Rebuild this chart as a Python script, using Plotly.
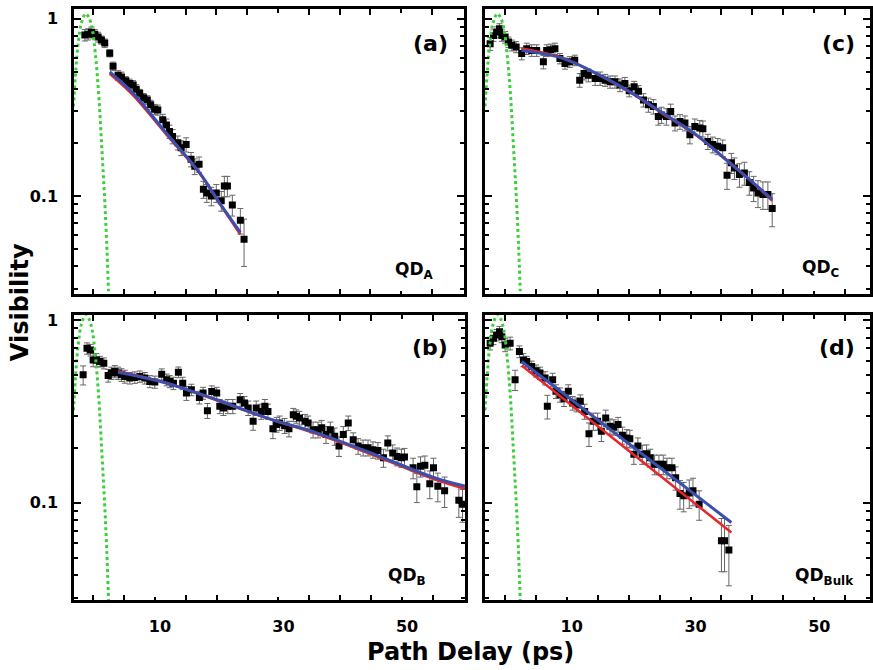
import plotly.graph_objects as go

# ---------------- data ----------------
# Panel (a) QD_A
A_X = [-1.34, -0.8, -0.27, 0.27, 0.81, 1.35, 1.89, 2.7, 3.24, 4.05,
       4.6, 5.3, 5.94, 6.5, 7.0, 7.56, 8.2, 8.8, 9.34, 9.98,
       10.5, 11.3, 11.9, 12.4, 12.9, 13.75, 14.3, 15.1, 15.9, 16.5,
       17.2, 17.9, 18.45, 19.2, 20.0, 20.8, 21.3, 21.8, 22.6, 23.9, 24.5]
A_Y = [0.81, 0.82, 0.84, 0.82, 0.79, 0.76, 0.73, 0.64, 0.54, 0.48,
       0.47, 0.447, 0.432, 0.423, 0.40, 0.38, 0.359, 0.348, 0.327, 0.309,
       0.306, 0.269, 0.252, 0.231, 0.217, 0.20, 0.187, 0.195, 0.161, 0.147,
       0.151, 0.109, 0.104, 0.10, 0.104, 0.094, 0.114, 0.114, 0.089, 0.073, 0.057]
A_ERR = [0.06, 0.06, 0.06, 0.05, 0.05, 0.04, 0.04, 0.03, 0.03, 0.03,
         0.03, 0.025, 0.025, 0.025, 0.025, 0.02, 0.02, 0.02, 0.02, 0.02,
         0.02, 0.02, 0.02, 0.02, 0.02, 0.018, 0.018, 0.018, 0.015, 0.015,
         0.015, 0.012, 0.012, 0.012, 0.012, 0.012, 0.015, 0.015, 0.012, 0.012, 0.017]
A_FIT_X = [2.7, 6.5, 11.9, 17.3, 20.5, 23.9]
A_BLUE_Y = [0.502, 0.38, 0.226, 0.135, 0.0918, 0.0623]
A_RED_Y = [0.49, 0.37, 0.222, 0.134, 0.091, 0.0605]

# Panel (b) QD_B
B_X = [-1.62, -1.0, -0.42, 0.0, 0.54, 1.08, 1.73, 2.43, 2.97, 3.51,
       4.05, 4.59, 5.13, 5.94, 6.75, 7.56, 8.36, 9.17, 9.98, 11.1,
       11.9, 12.4, 13.0, 13.8, 14.5, 15.1, 15.9, 17.2, 17.8, 18.5,
       19.2, 20.0, 20.5, 21.1, 21.8, 22.6, 23.8, 24.5, 25.1, 25.9,
       26.4, 27.2, 27.8, 28.3, 29.1, 29.7, 30.2, 31.0, 31.7, 32.4,
       32.9, 33.4, 34.3, 34.8, 35.6, 36.4, 37.0, 37.7, 38.4, 39.1,
       39.8, 40.5, 41.3, 42.1, 42.9, 43.7, 44.5, 45.3, 46.1, 47.0,
       47.7, 48.5, 49.2, 49.9, 50.4, 51.8, 52.4, 53.0, 53.7, 54.5,
       55.1, 55.8, 56.9, 59.2, 59.8]
B_Y = [0.501, 0.70, 0.686, 0.605, 0.605, 0.593, 0.58, 0.497, 0.512, 0.523,
       0.512, 0.501, 0.491, 0.481, 0.485, 0.491, 0.481, 0.461, 0.458, 0.505,
       0.471, 0.461, 0.451, 0.518, 0.451, 0.398, 0.415, 0.377, 0.398, 0.319,
       0.406, 0.398, 0.337, 0.33, 0.337, 0.337, 0.366, 0.351, 0.33, 0.279,
       0.33, 0.316, 0.337, 0.316, 0.254, 0.268, 0.273, 0.264, 0.254, 0.303,
       0.297, 0.291, 0.279, 0.273, 0.251, 0.251, 0.257, 0.236, 0.251, 0.231,
       0.204, 0.236, 0.273, 0.221, 0.204, 0.2, 0.2, 0.195, 0.193, 0.176,
       0.212, 0.187, 0.179, 0.176, 0.178, 0.155, 0.122, 0.158, 0.16, 0.127,
       0.155, 0.123, 0.116, 0.103, 0.098]
B_ERR = [0.06, 0.05, 0.05, 0.05, 0.05, 0.04, 0.04, 0.04, 0.04, 0.04,
         0.04, 0.04, 0.04, 0.035, 0.035, 0.035, 0.035, 0.035, 0.035, 0.035,
         0.035, 0.035, 0.035, 0.035, 0.035, 0.035, 0.03, 0.03, 0.03, 0.03,
         0.03, 0.03, 0.03, 0.03, 0.03, 0.03, 0.03, 0.03, 0.03, 0.03,
         0.03, 0.03, 0.03, 0.03, 0.03, 0.025, 0.025, 0.025, 0.025, 0.025,
         0.025, 0.025, 0.025, 0.025, 0.025, 0.025, 0.025, 0.025, 0.025, 0.025,
         0.025, 0.025, 0.025, 0.02, 0.02, 0.02, 0.02, 0.02, 0.02, 0.02,
         0.02, 0.02, 0.02, 0.02, 0.02, 0.02, 0.022, 0.02, 0.02, 0.022,
         0.02, 0.022, 0.022, 0.02, 0.02]
B_FIT_X = [4.05, 11.9, 20.0, 28.1, 36.2, 44.3, 55.0, 60.2]
B_BLUE_Y = [0.518, 0.451, 0.366, 0.291, 0.241, 0.191, 0.138, 0.123]
B_RED_Y = [0.525, 0.452, 0.363, 0.29, 0.238, 0.188, 0.135, 0.119]

# Panel (c) QD_C
C_X = [-2.37, -1.83, -1.3, -0.86, -0.48, 0.05, 0.59, 1.13, 1.83, 2.73,
       3.54, 4.34, 5.15, 6.23, 6.76, 7.4, 8.1, 8.9, 9.72, 10.5,
       11.3, 12.1, 12.8, 13.5, 14.6, 15.4, 16.2, 17.0, 17.8, 18.6,
       19.4, 20.1, 20.9, 21.6, 22.4, 23.2, 24.0, 24.8, 25.3, 26.1,
       26.8, 27.5, 28.3, 29.1, 29.9, 30.7, 31.5, 32.0, 32.8, 33.6,
       34.4, 35.2, 35.9, 36.6, 37.1, 37.9, 38.7, 39.5, 40.2, 40.9,
       41.7, 42.5, 43.2]
C_Y = [0.724, 0.807, 0.842, 0.879, 0.807, 0.789, 0.74, 0.709, 0.694, 0.637,
       0.679, 0.664, 0.664, 0.572, 0.664, 0.67, 0.679, 0.597, 0.56, 0.572,
       0.584, 0.451, 0.492, 0.481, 0.461, 0.461, 0.451, 0.441, 0.441, 0.423,
       0.432, 0.393, 0.414, 0.39, 0.348, 0.327, 0.32, 0.281, 0.287, 0.281,
       0.30, 0.258, 0.263, 0.258, 0.222, 0.247, 0.242, 0.24, 0.203, 0.195,
       0.191, 0.187, 0.131, 0.154, 0.144, 0.132, 0.135, 0.119, 0.111, 0.104,
       0.102, 0.102, 0.085]
C_ERR = [0.06, 0.06, 0.06, 0.06, 0.06, 0.06, 0.05, 0.05, 0.05, 0.05,
         0.05, 0.05, 0.05, 0.05, 0.05, 0.05, 0.05, 0.04, 0.04, 0.04,
         0.04, 0.04, 0.04, 0.04, 0.04, 0.04, 0.035, 0.035, 0.035, 0.035,
         0.035, 0.03, 0.03, 0.03, 0.03, 0.03, 0.03, 0.03, 0.03, 0.03,
         0.03, 0.025, 0.025, 0.025, 0.025, 0.025, 0.025, 0.025, 0.02, 0.02,
         0.02, 0.02, 0.022, 0.02, 0.02, 0.02, 0.02, 0.018, 0.018, 0.018,
         0.018, 0.018, 0.018]
C_FIT_X = [2.73, 9.45, 14.8, 20.2, 25.6, 30.9, 36.3, 39.5, 43.2]
C_BLUE_Y = [0.664, 0.597, 0.492, 0.388, 0.293, 0.222, 0.154, 0.124, 0.0958]
C_RED_Y = [0.68, 0.60, 0.49, 0.385, 0.29, 0.22, 0.155, 0.124, 0.094]

# Panel (d) QD_Bulk
D_X = [-2.37, -1.83, -1.3, -0.86, -0.48, 0.05, 0.86, 1.66, 2.36, 3.0,
       3.54, 4.34, 5.05, 5.69, 6.5, 6.87, 7.73, 8.27, 8.92, 9.56,
       10.26, 10.96, 11.6, 12.2, 12.9, 13.6, 14.3, 15.0, 15.6, 16.3,
       17.0, 17.6, 18.3, 19.0, 19.7, 20.2, 20.85, 21.5, 22.2, 22.9,
       23.5, 24.2, 24.9, 25.6, 26.2, 27.0, 27.6, 28.3, 28.9, 29.8,
       30.4, 31.4, 35.0, 35.5, 36.2]
D_Y = [0.746, 0.794, 0.828, 0.863, 0.811, 0.731, 0.746, 0.471, 0.672, 0.605,
       0.593, 0.556, 0.527, 0.512, 0.481, 0.337, 0.471, 0.407, 0.39, 0.371,
       0.407, 0.351, 0.344, 0.359, 0.316, 0.238, 0.279, 0.279, 0.246, 0.291,
       0.262, 0.259, 0.268, 0.234, 0.226, 0.224, 0.184, 0.204, 0.184, 0.185,
       0.176, 0.162, 0.162, 0.162, 0.155, 0.155, 0.137, 0.112, 0.109, 0.113,
       0.116, 0.098, 0.0618, 0.0618, 0.055]
D_ERR = [0.06, 0.06, 0.06, 0.06, 0.06, 0.06, 0.06, 0.06, 0.05, 0.05,
         0.04, 0.04, 0.04, 0.04, 0.04, 0.05, 0.04, 0.035, 0.035, 0.035,
         0.035, 0.03, 0.03, 0.03, 0.03, 0.035, 0.03, 0.03, 0.03, 0.03,
         0.025, 0.025, 0.025, 0.025, 0.025, 0.025, 0.022, 0.022, 0.022, 0.022,
         0.02, 0.02, 0.02, 0.02, 0.02, 0.02, 0.02, 0.02, 0.02, 0.02,
         0.02, 0.018, 0.02, 0.02, 0.02]
D_FIT_X = [2.73, 36.6]
D_BLUE_Y = [0.593, 0.0778]
D_RED_Y = [0.563, 0.0686]

# Laser reference (green dotted), same in every panel
GREEN_X = [-3.2, -2.8, -2.4, -1.9, -1.2, -0.7, -0.15, 0.35, 0.9, 1.4, 1.85, 2.2, 2.5]
GREEN_Y = [0.32, 0.52, 0.74, 0.95, 1.07, 1.02, 0.88, 0.64, 0.38, 0.19, 0.10, 0.055, 0.029]

PANEL_LABELS = ["(a)", "(b)", "(c)", "(d)"]
QD_LABELS = ["QD<sub>A</sub>", "QD<sub>B</sub>", "QD<sub>C</sub>", "QD<sub>Bulk</sub>"]
X_TICKS = [10, 30, 50]
X_TICKTEXT = ["10", "30", "50"]
X_MINOR = [0, 5, 15, 20, 25, 35, 40, 45, 55]
Y_TICKS = [0.1, 1]
Y_TICKTEXT = ["0.1", "1"]
Y_MINOR = [0.03, 0.04, 0.05, 0.06, 0.07, 0.08, 0.09, 0.2, 0.3, 0.4, 0.5, 0.6, 0.7, 0.8, 0.9]

# ---------------- layout geometry (page pixels) ----------------
W, H = 873, 670
FONT = "DejaVu Sans"


def px(x):
    return x / W


def py(y):
    return 1 - y / H


panels = [
    dict(data=(A_X, A_Y, A_ERR, A_FIT_X, A_BLUE_Y, A_RED_Y), xd=(74, 464), yd=(5, 292),
         xr=[-3.1, 60.2], yr=[-1.555, 0.056], xl=False, yl=True, lab=(450, 40), qd=(414, 268)),
    dict(data=(B_X, B_Y, B_ERR, B_FIT_X, B_BLUE_Y, B_RED_Y), xd=(74, 465), yd=(313, 600),
         xr=[-3.1, 60.2], yr=[-1.536, 0.027], xl=True, yl=True, lab=(450, 346), qd=(407, 576)),
    dict(data=(C_X, C_Y, C_ERR, C_FIT_X, C_BLUE_Y, C_RED_Y), xd=(485, 870), yd=(5, 292),
         xr=[-3.2, 59.0], yr=[-1.555, 0.056], xl=False, yl=False, lab=(857, 40), qd=(820, 266)),
    dict(data=(D_X, D_Y, D_ERR, D_FIT_X, D_BLUE_Y, D_RED_Y), xd=(485, 870), yd=(313, 600),
         xr=[-3.2, 59.0], yr=[-1.536, 0.027], xl=True, yl=False, lab=(857, 346), qd=(824, 576)),
]

fig = go.Figure()
layout = dict(
    width=W, height=H,
    margin=dict(l=0, r=0, t=0, b=0),
    paper_bgcolor="white", plot_bgcolor="white",
    showlegend=False,
    font=dict(family=FONT, color="black"),
)
annotations = []

for i, p in enumerate(panels):
    n = i + 1
    xa = "x" if n == 1 else f"x{n}"
    ya = "y" if n == 1 else f"y{n}"
    X, Y, E, FX, BY, RY = p["data"]
    fig.add_trace(go.Scatter(
        x=X, y=Y, mode="markers", xaxis=xa, yaxis=ya,
        marker=dict(symbol="square", size=7, color="black"),
        error_y=dict(type="data", array=E, color="#666666", thickness=1, width=3),
    ))
    fig.add_trace(go.Scatter(
        x=GREEN_X, y=GREEN_Y, mode="lines", xaxis=xa, yaxis=ya, line_shape="spline",
        line=dict(color="#3ccf3c", width=3, dash="dot"),
    ))
    fig.add_trace(go.Scatter(
        x=FX, y=RY, mode="lines", xaxis=xa, yaxis=ya, line_shape="spline",
        line=dict(color="#e8262a", width=2.5),
    ))
    fig.add_trace(go.Scatter(
        x=FX, y=BY, mode="lines", xaxis=xa, yaxis=ya, line_shape="spline",
        line=dict(color="#3a4fae", width=3),
    ))

    xkey = "xaxis" if n == 1 else f"xaxis{n}"
    ykey = "yaxis" if n == 1 else f"yaxis{n}"
    layout[xkey] = dict(
        domain=[px(p["xd"][0]), px(p["xd"][1])], anchor=ya,
        range=p["xr"], showgrid=False, zeroline=False,
        showline=True, linecolor="black", linewidth=2.5, mirror="allticks",
        ticks="inside", ticklen=4, tickwidth=2, tickcolor="black",
        tickmode="array", tickvals=X_TICKS, ticktext=X_TICKTEXT,
        showticklabels=p["xl"],
        tickfont=dict(family=FONT, size=16, color="black", weight="bold"),
        ticklabelstandoff=10, ticklabelshift=5,
        minor=dict(tickmode="array", tickvals=X_MINOR, ticks="inside", ticklen=6,
                   tickwidth=2, tickcolor="black", showgrid=False),
    )
    layout[ykey] = dict(
        domain=[py(p["yd"][1]), py(p["yd"][0])], anchor=xa,
        type="log", range=p["yr"], showgrid=False, zeroline=False,
        showline=True, linecolor="black", linewidth=2.5, mirror="allticks",
        ticks="inside", ticklen=7, tickwidth=2, tickcolor="black",
        tickmode="array", tickvals=Y_TICKS, ticktext=Y_TICKTEXT,
        showticklabels=p["yl"],
        tickfont=dict(family=FONT, size=16, color="black", weight="bold"),
        ticklabelstandoff=10,
        minor=dict(tickmode="array", tickvals=Y_MINOR, ticks="inside", ticklen=4,
                   tickwidth=1.5, tickcolor="black", showgrid=False),
    )
    annotations.append(dict(
        x=px(p["lab"][0]), y=py(p["lab"][1]), xref="paper", yref="paper",
        xanchor="right", yanchor="middle", showarrow=False,
        text=f"<b>{PANEL_LABELS[i]}</b>", font=dict(family=FONT, size=22, color="black"),
    ))
    annotations.append(dict(
        x=px(p["qd"][0]), y=py(p["qd"][1]), xref="paper", yref="paper",
        xanchor="center", yanchor="middle", showarrow=False,
        text=f"<b>{QD_LABELS[i]}</b>", font=dict(family=FONT, size=17, color="black"),
    ))

annotations.append(dict(
    x=px(20), y=py(300), xref="paper", yref="paper", xanchor="center", yanchor="middle",
    showarrow=False, textangle=-90, text="<b>Visibility</b>",
    font=dict(family=FONT, size=24, color="black"),
))
annotations.append(dict(
    x=px(470), y=py(652), xref="paper", yref="paper", xanchor="center", yanchor="middle",
    showarrow=False, text="<b>Path Delay (ps)</b>",
    font=dict(family=FONT, size=24, color="black"),
))
layout["annotations"] = annotations

fig.update_layout(**layout)
# the page body has a default 8 px margin; remove it so the figure fills the window
fig.write_html("out.html", config={"displayModeBar": False},
               post_script="document.body.style.margin='0';")
